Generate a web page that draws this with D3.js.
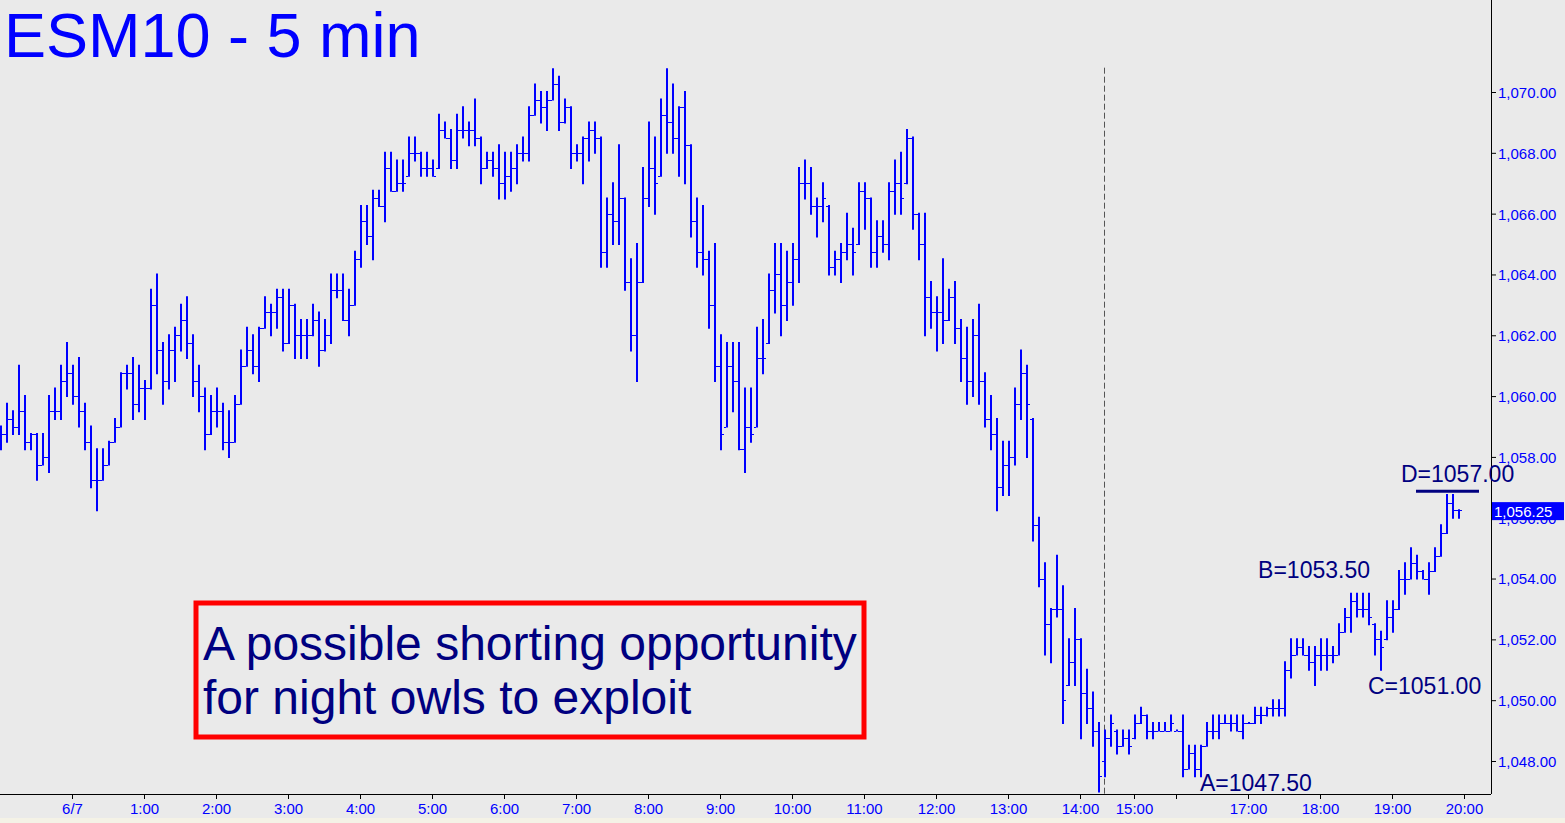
<!DOCTYPE html>
<meta charset="utf-8">

<head>
  <meta name="viewport" content="width=device-width, initial-scale=1">
  <style>
    body {
      margin: 0;
      background: #eaeaea;
      overflow: hidden;
    }

    /* Every label on the chart uses the same Arial-like face */
    text {
      font-family: "Liberation Sans", Arial, sans-serif;
    }

    .axis text {
      fill: #0000ff;
      font-size: 15px;
    }

    .axis line {
      stroke: #000;
    }
  </style>
</head>

<body>
  <script src="https://d3js.org/d3.v7.min.js"></script>

  <div id="viz"></div>

  <script type="text/javascript">
    // ESM10 5 minute bars (one value per bar, left to right)
    var highs = [
      1059.0, 1059.75, 1059.5, 1061.0, 1060.0, 1058.75, 1058.75, 1058.75, 1060.0, 1060.25,
      1061.0, 1061.75, 1061.0, 1061.25, 1059.75, 1059.0, 1058.25, 1058.25, 1058.5, 1059.25,
      1060.75, 1061.0, 1061.25, 1061.0, 1060.5, 1063.5, 1064.0, 1061.75, 1062.0, 1062.25,
      1063.0, 1063.25, 1062.0, 1061.0, 1060.25, 1060.0, 1060.25, 1059.75, 1059.5, 1060.0,
      1061.5, 1062.25, 1062.0, 1062.25, 1063.25, 1063.0, 1063.5, 1063.5, 1063.5, 1063.0,
      1062.5, 1062.5, 1063.0, 1062.75, 1062.5, 1064.0, 1064.0, 1064.0, 1063.5, 1064.75,
      1066.25, 1066.25, 1066.75, 1066.75, 1068.0, 1068.0, 1067.75, 1067.75, 1068.5, 1068.5,
      1068.0, 1068.0, 1067.75, 1069.25, 1069.0, 1068.75, 1069.25, 1069.5, 1069.0, 1069.75,
      1068.5, 1068.0, 1068.0, 1068.25, 1068.0, 1068.0, 1068.25, 1068.5, 1069.5, 1070.25,
      1070.0, 1070.0, 1070.75, 1070.5, 1069.75, 1069.5, 1068.25, 1068.5, 1069.0, 1069.0,
      1068.5, 1066.5, 1067.0, 1068.25, 1066.5, 1064.5, 1065.0, 1067.5, 1069.0, 1068.5,
      1069.75, 1070.75, 1070.25, 1069.5, 1070.0, 1068.25, 1066.5, 1066.25, 1064.75, 1065.0,
      1062.0, 1061.75, 1061.75, 1061.75, 1060.25, 1060.25, 1062.25, 1062.5, 1064.0, 1065.0,
      1065.0, 1064.75, 1065.0, 1067.5, 1067.75, 1067.5, 1066.5, 1067.0, 1066.25, 1064.75,
      1065.0, 1066.0, 1065.5, 1067.0, 1067.0, 1066.5, 1065.75, 1065.75, 1067.0, 1067.75,
      1068.0, 1068.75, 1068.5, 1066.0, 1066.0, 1063.75, 1063.25, 1064.5, 1063.5, 1063.75,
      1062.5, 1062.25, 1062.5, 1063.0, 1060.75, 1060.0, 1059.25, 1058.5, 1058.5, 1060.25,
      1061.5, 1061.0, 1059.25, 1056.0, 1054.5, 1053.0, 1054.75, 1053.75, 1052.0, 1053.0,
      1052.0, 1051.0, 1050.25, 1049.25, 1049.0, 1049.5, 1049.0, 1049.0, 1049.0, 1049.5,
      1049.75, 1049.5, 1049.25, 1049.25, 1049.25, 1049.5, 1049.0, 1049.5, 1048.5, 1048.5,
      1048.5, 1049.25, 1049.5, 1049.5, 1049.5, 1049.5, 1049.5, 1049.5, 1049.25, 1049.75,
      1049.75, 1049.75, 1050.0, 1050.0, 1051.25, 1052.0, 1052.0, 1052.0, 1051.75, 1051.75,
      1052.0, 1052.0, 1051.75, 1052.5, 1053.0, 1053.5, 1053.5, 1053.5, 1053.5, 1052.5,
      1052.25, 1053.25, 1053.25, 1054.25, 1054.5, 1055.0, 1054.75, 1054.25, 1054.5, 1055.0,
      1055.75, 1056.75, 1056.75, 1056.25
    ];

    var lows = [
      1058.25, 1058.5, 1058.75, 1058.75, 1058.25, 1058.25, 1057.25, 1057.75, 1057.5, 1059.25,
      1059.25, 1060.0, 1059.75, 1059.0, 1058.25, 1057.0, 1056.25, 1057.25, 1057.75, 1058.5,
      1059.0, 1060.25, 1059.25, 1059.5, 1059.25, 1060.25, 1060.75, 1059.75, 1060.25, 1060.5,
      1061.5, 1061.25, 1060.0, 1059.5, 1058.25, 1058.75, 1059.0, 1058.25, 1058.0, 1058.5,
      1059.75, 1061.0, 1060.75, 1060.5, 1062.25, 1062.0, 1062.25, 1061.5, 1061.75, 1061.25,
      1061.25, 1061.25, 1062.0, 1061.0, 1061.5, 1061.75, 1063.25, 1062.5, 1062.0, 1063.0,
      1064.25, 1065.0, 1064.5, 1066.25, 1065.75, 1066.75, 1066.75, 1066.75, 1067.25, 1067.75,
      1067.25, 1067.25, 1067.25, 1067.5, 1068.5, 1067.5, 1067.5, 1068.5, 1068.25, 1068.25,
      1067.0, 1067.5, 1067.25, 1066.5, 1066.5, 1066.75, 1067.0, 1067.75, 1067.75, 1069.25,
      1069.0, 1068.75, 1069.75, 1068.75, 1069.0, 1067.5, 1067.75, 1067.0, 1067.75, 1068.0,
      1064.25, 1064.25, 1065.0, 1065.0, 1063.5, 1061.5, 1060.5, 1063.75, 1066.25, 1066.0,
      1067.25, 1068.0, 1068.0, 1067.25, 1067.0, 1065.25, 1064.25, 1064.0, 1062.25, 1060.5,
      1058.25, 1059.0, 1059.5, 1058.25, 1057.5, 1058.5, 1059.0, 1060.75, 1061.75, 1062.75,
      1062.0, 1062.5, 1063.0, 1063.75, 1066.5, 1066.0, 1065.25, 1065.75, 1064.0, 1064.0,
      1063.75, 1064.5, 1064.0, 1065.0, 1065.5, 1064.25, 1064.25, 1064.75, 1064.5, 1066.0,
      1066.0, 1067.0, 1065.5, 1064.5, 1062.0, 1062.25, 1061.5, 1061.75, 1062.5, 1061.75,
      1060.5, 1059.75, 1060.0, 1059.75, 1059.0, 1058.25, 1056.25, 1056.75, 1056.75, 1057.75,
      1059.25, 1058.0, 1055.25, 1053.75, 1051.5, 1051.25, 1052.75, 1049.25, 1050.5, 1050.5,
      1048.75, 1049.25, 1048.5, 1047.0, 1047.5, 1048.5, 1048.25, 1048.5, 1048.25, 1048.75,
      1049.25, 1048.75, 1048.75, 1049.0, 1049.0, 1049.0, 1049.0, 1047.5, 1047.75, 1047.5,
      1047.5, 1048.5, 1048.75, 1048.75, 1049.25, 1049.0, 1049.0, 1048.75, 1049.25, 1049.25,
      1049.25, 1049.5, 1049.5, 1049.5, 1049.5, 1050.75, 1051.5, 1051.5, 1051.0, 1050.5,
      1051.0, 1051.0, 1051.25, 1051.5, 1052.25, 1052.25, 1052.75, 1052.75, 1052.5, 1051.5,
      1051.0, 1052.0, 1052.25, 1053.0, 1053.5, 1054.0, 1054.0, 1054.0, 1053.5, 1054.25,
      1054.75, 1055.5, 1056.0, 1056.0
    ];

    var opens = [
      1058.5, 1058.75, 1059.25, 1059.0, 1059.5, 1058.5, 1058.75, 1057.75, 1058.0, 1059.5,
      1059.5, 1060.5, 1060.75, 1060.0, 1059.5, 1058.5, 1057.25, 1057.25, 1057.75, 1058.5,
      1059.0, 1060.75, 1060.75, 1059.75, 1060.25, 1060.25, 1063.0, 1061.5, 1060.5, 1061.5,
      1062.0, 1062.5, 1061.75, 1060.5, 1060.0, 1058.75, 1059.5, 1059.5, 1058.5, 1058.5,
      1059.75, 1061.0, 1061.5, 1061.0, 1062.25, 1062.75, 1062.75, 1063.25, 1061.75, 1063.0,
      1062.0, 1062.0, 1062.0, 1062.5, 1061.5, 1062.0, 1063.5, 1063.5, 1062.5, 1063.0,
      1064.5, 1065.75, 1065.25, 1066.5, 1066.25, 1067.5, 1066.75, 1067.0, 1067.25, 1068.0,
      1068.0, 1067.5, 1067.5, 1067.5, 1068.75, 1068.5, 1067.75, 1068.75, 1068.75, 1068.75,
      1068.5, 1067.5, 1067.75, 1067.5, 1067.0, 1067.25, 1067.5, 1068.0, 1068.0, 1069.25,
      1069.75, 1069.5, 1069.75, 1070.25, 1069.0, 1069.5, 1068.0, 1068.0, 1068.5, 1068.75,
      1068.5, 1064.75, 1066.0, 1065.75, 1066.5, 1063.75, 1062.0, 1063.75, 1066.5, 1067.5,
      1067.25, 1069.25, 1069.0, 1068.5, 1069.5, 1068.25, 1065.75, 1064.75, 1064.5, 1063.0,
      1061.0, 1059.0, 1061.0, 1060.5, 1058.25, 1059.0, 1059.0, 1061.25, 1061.75, 1063.5,
      1064.0, 1063.0, 1063.75, 1064.5, 1067.0, 1067.0, 1066.25, 1066.25, 1066.25, 1064.25,
      1064.5, 1064.75, 1065.0, 1065.0, 1066.75, 1066.5, 1064.75, 1065.25, 1065.0, 1066.75,
      1067.0, 1067.0, 1068.5, 1066.0, 1065.0, 1063.25, 1062.75, 1062.75, 1062.5, 1063.25,
      1062.25, 1061.25, 1060.5, 1062.0, 1060.5, 1059.25, 1058.75, 1057.0, 1057.75, 1058.0,
      1059.75, 1060.75, 1059.25, 1055.75, 1054.0, 1052.5, 1053.0, 1053.0, 1050.5, 1051.25,
      1052.0, 1050.25, 1049.75, 1049.0, 1048.0, 1048.75, 1049.0, 1048.5, 1048.75, 1048.75,
      1049.25, 1049.5, 1049.0, 1049.0, 1049.0, 1049.0, 1049.0, 1049.0, 1047.75, 1048.25,
      1047.75, 1048.5, 1049.0, 1049.0, 1049.25, 1049.25, 1049.25, 1049.0, 1049.25, 1049.25,
      1049.5, 1049.5, 1049.75, 1049.75, 1049.75, 1051.0, 1051.5, 1051.75, 1051.5, 1051.25,
      1051.5, 1051.5, 1051.5, 1051.5, 1052.25, 1052.75, 1053.25, 1053.0, 1053.0, 1052.5,
      1052.0, 1052.0, 1052.75, 1053.0, 1054.0, 1054.0, 1054.5, 1054.25, 1054.0, 1054.25,
      1054.75, 1055.5, 1056.5, 1056.25
    ];

    var closes = [
      1058.75, 1059.25, 1059.0, 1059.5, 1058.5, 1058.75, 1057.75, 1058.0, 1059.5, 1059.5,
      1060.5, 1060.75, 1060.0, 1059.5, 1058.5, 1057.25, 1057.25, 1057.75, 1058.5, 1059.0,
      1060.75, 1060.75, 1059.75, 1060.25, 1060.25, 1063.0, 1061.5, 1060.5, 1061.5, 1062.0,
      1062.5, 1061.75, 1060.5, 1060.0, 1058.75, 1059.5, 1059.5, 1058.5, 1058.5, 1059.75,
      1061.0, 1061.5, 1061.0, 1062.25, 1062.75, 1062.75, 1063.25, 1061.75, 1063.0, 1062.0,
      1062.0, 1062.0, 1062.5, 1061.5, 1062.0, 1063.5, 1063.5, 1062.5, 1063.0, 1064.5,
      1065.75, 1065.25, 1066.5, 1066.25, 1067.5, 1066.75, 1067.0, 1067.0, 1068.0, 1068.0,
      1067.5, 1067.5, 1067.25, 1068.75, 1068.5, 1067.75, 1068.75, 1068.75, 1068.75, 1068.5,
      1067.5, 1067.75, 1067.5, 1067.0, 1067.25, 1067.5, 1068.0, 1068.0, 1069.25, 1069.75,
      1069.5, 1069.75, 1070.25, 1069.0, 1069.5, 1068.0, 1068.0, 1068.5, 1068.75, 1068.5,
      1064.75, 1066.0, 1065.75, 1066.5, 1063.75, 1062.0, 1063.75, 1066.5, 1067.5, 1067.0,
      1069.25, 1069.0, 1068.5, 1069.5, 1068.25, 1065.75, 1064.75, 1064.5, 1063.0, 1061.0,
      1058.75, 1061.0, 1060.5, 1058.25, 1059.0, 1058.75, 1061.25, 1061.25, 1063.5, 1064.0,
      1063.0, 1063.75, 1064.5, 1067.0, 1067.0, 1066.25, 1066.25, 1066.5, 1064.25, 1064.5,
      1064.75, 1065.0, 1064.75, 1066.75, 1066.5, 1064.75, 1065.25, 1065.0, 1066.75, 1067.0,
      1066.5, 1068.5, 1066.0, 1065.0, 1063.25, 1062.75, 1062.75, 1062.5, 1063.25, 1062.25,
      1061.25, 1060.5, 1062.0, 1060.5, 1059.25, 1058.75, 1057.0, 1057.75, 1058.0, 1059.75,
      1060.75, 1059.75, 1055.75, 1054.0, 1052.5, 1053.0, 1053.0, 1050.0, 1051.25, 1052.0,
      1050.25, 1049.75, 1049.0, 1047.5, 1048.75, 1049.25, 1048.5, 1048.75, 1048.5, 1049.25,
      1049.5, 1049.0, 1049.0, 1049.0, 1049.0, 1049.25, 1049.0, 1047.75, 1048.25, 1047.75,
      1048.5, 1049.0, 1049.0, 1049.25, 1049.25, 1049.25, 1049.0, 1049.25, 1049.25, 1049.5,
      1049.5, 1049.75, 1049.75, 1049.75, 1051.0, 1051.5, 1051.75, 1051.5, 1051.25, 1051.5,
      1051.5, 1051.5, 1051.5, 1052.25, 1052.75, 1053.25, 1053.0, 1053.0, 1052.75, 1052.0,
      1051.75, 1052.75, 1053.0, 1054.0, 1054.0, 1054.5, 1054.25, 1054.0, 1054.25, 1054.75,
      1055.5, 1056.5, 1056.25, 1056.25
    ];

    // Time axis: bar index of each tick and its label (16:00 has a tick but no label)
    var timeTicks = [12, 24, 36, 48, 60, 72, 84, 96, 108, 120, 132, 144, 156, 168, 180, 189, 196, 208, 220, 232, 244];
    var timeLabels = ["6/7", "1:00", "2:00", "3:00", "4:00", "5:00", "6:00", "7:00", "8:00", "9:00", "10:00",
      "11:00", "12:00", "13:00", "14:00", "15:00", "", "17:00", "18:00", "19:00", "20:00"];

    // Price axis ticks
    var priceTicks = [1048, 1050, 1052, 1054, 1056, 1058, 1060, 1062, 1064, 1066, 1068, 1070];

    // Session break (bar index) and the A/B/C/D pattern notes
    var sessionBreak = 184;
    var lastPrice = 1056.25;
    var pointNames = ["A", "B", "C", "D"];
    var pointValues = [1047.50, 1053.50, 1051.00, 1057.00];
    var pointBars = [200, 228, 228, 236];

    var noteLines = ["A possible shorting opportunity", "for night owls to exploit"];

    var config = {
      width: 1565,
      height: 823,
      axisX: 1491,
      axisY: 794
    }

    var bars = highs.map(function(h, i) {
      return { i: i, o: opens[i], h: h, l: lows[i], c: closes[i] };
    });

    var svg = d3.select("#viz").append("svg")
      .attr("width", config.width)
      .attr("height", config.height)
      .style("display", "block");

    svg.append("rect")
      .attr("width", config.width)
      .attr("height", config.height)
      .attr("fill", "#eaeaea");

    // thin cream strip along the very bottom of the window
    svg.append("rect")
      .attr("x", 0)
      .attr("y", 818)
      .attr("width", config.width)
      .attr("height", 5)
      .attr("fill", "#f4f2e6");

    // 6 px per 5-minute bar
    var xScale = d3.scaleLinear()
      .domain([0, 244])
      .range([0, 1464]);

    var yScale = d3.scaleLinear()
      .domain([1048, 1070])
      .range([761, 92]);

    // Session break, dashed
    svg.append("line")
      .attr("x1", xScale(sessionBreak) + 0.5)
      .attr("x2", xScale(sessionBreak) + 0.5)
      .attr("y1", yScale(1070.8))
      .attr("y2", config.axisY)
      .attr("stroke", "#555")
      .attr("stroke-width", 1)
      .attr("stroke-dasharray", "6,3");

    // OHLC bars
    var g = svg.append("g").attr("class", "bars");

    var bar = g.selectAll(".ohlc")
      .data(bars)
      .enter().append("g")
      .attr("class", "ohlc");

    bar.append("line")
      .attr("x1", function(d) { return xScale(d.i) + 1; })
      .attr("x2", function(d) { return xScale(d.i) + 1; })
      .attr("y1", function(d) { return yScale(d.h) - 1; })
      .attr("y2", function(d) { return yScale(d.l) + 1; })
      .attr("stroke", "#0000ff")
      .attr("stroke-width", 2);

    // open tick on the left, close tick on the right
    bar.append("line")
      .attr("x1", function(d) { return xScale(d.i) - 2; })
      .attr("x2", function(d) { return xScale(d.i); })
      .attr("y1", function(d) { return Math.round(yScale(Math.max(d.l, Math.min(d.h, d.o)))) + 0.5; })
      .attr("y2", function(d) { return Math.round(yScale(Math.max(d.l, Math.min(d.h, d.o)))) + 0.5; })
      .attr("stroke", "#0000ff")
      .attr("stroke-width", 1);

    bar.append("line")
      .attr("x1", function(d) { return xScale(d.i) + 2; })
      .attr("x2", function(d) { return xScale(d.i) + 4; })
      .attr("y1", function(d) { return Math.round(yScale(Math.max(d.l, Math.min(d.h, d.c)))) + 0.5; })
      .attr("y2", function(d) { return Math.round(yScale(Math.max(d.l, Math.min(d.h, d.c)))) + 0.5; })
      .attr("stroke", "#0000ff")
      .attr("stroke-width", 1);

    // Price axis on the right
    var yAxis = d3.axisRight(yScale)
      .tickValues(priceTicks)
      .tickSize(5)
      .tickPadding(2)
      .tickFormat(d3.format(",.2f"));

    svg.append("g")
      .attr("class", "axis")
      .attr("transform", "translate(" + config.axisX + ",0)")
      .call(yAxis)
      .call(function(a) { a.select(".domain").remove(); })
      .selectAll("text")
      .attr("dy", "0.36em");

    svg.append("line")
      .attr("x1", config.axisX + 0.5)
      .attr("x2", config.axisX + 0.5)
      .attr("y1", 0)
      .attr("y2", config.axisY)
      .attr("stroke", "#000");

    // Time axis along the bottom
    var xAxis = d3.axisBottom(xScale)
      .tickValues(timeTicks)
      .tickSize(5)
      .tickPadding(4)
      .tickFormat(function(d, i) { return timeLabels[i]; });

    svg.append("g")
      .attr("class", "axis")
      .attr("transform", "translate(0," + config.axisY + ")")
      .call(xAxis)
      .call(function(a) { a.select(".domain").remove(); });

    svg.append("line")
      .attr("x1", 0)
      .attr("x2", config.axisX)
      .attr("y1", config.axisY + 0.5)
      .attr("y2", config.axisY + 0.5)
      .attr("stroke", "#000");

    // Last price flag on the axis (covers the top of the 1,056.00 label, as in the original)
    svg.append("rect")
      .attr("x", config.axisX + 1)
      .attr("y", yScale(lastPrice) - 8)
      .attr("width", 72)
      .attr("height", 18)
      .attr("fill", "#0000ff");

    svg.append("text")
      .attr("x", config.axisX + 3)
      .attr("y", yScale(lastPrice) + 7)
      .attr("fill", "#fff")
      .attr("font-size", 15)
      .text(d3.format(",.2f")(lastPrice));

    // A/B/C/D notes
    var fmt = d3.format(".2f");
    var noteColor = "#000080";

    svg.append("text")
      .attr("x", xScale(pointBars[0]))
      .attr("y", yScale(pointValues[0]) + 15)
      .attr("fill", noteColor)
      .attr("font-size", 23)
      .text(pointNames[0] + "=" + fmt(pointValues[0]));

    svg.append("text")
      .attr("x", xScale(pointBars[1]) + 2)
      .attr("y", yScale(pointValues[1]) - 16)
      .attr("text-anchor", "end")
      .attr("fill", noteColor)
      .attr("font-size", 23)
      .text(pointNames[1] + "=" + fmt(pointValues[1]));

    svg.append("text")
      .attr("x", xScale(pointBars[2]))
      .attr("y", yScale(pointValues[2]) + 24)
      .attr("fill", noteColor)
      .attr("font-size", 23)
      .text(pointNames[2] + "=" + fmt(pointValues[2]));

    svg.append("line")
      .attr("x1", xScale(pointBars[3]))
      .attr("x2", xScale(246.5))
      .attr("y1", yScale(pointValues[3]) + 4)
      .attr("y2", yScale(pointValues[3]) + 4)
      .attr("stroke", noteColor)
      .attr("stroke-width", 3);

    svg.append("text")
      .attr("x", xScale(pointBars[3]) - 15)
      .attr("y", yScale(pointValues[3]) - 5)
      .attr("fill", noteColor)
      .attr("font-size", 23)
      .text(pointNames[3] + "=" + fmt(pointValues[3]));

    // Title
    svg.append("text")
      .attr("x", 4)
      .attr("y", 57)
      .attr("fill", "#0000ff")
      .attr("font-size", 63)
      .text("ESM10 - 5 min");

    // Comment box
    svg.append("rect")
      .attr("x", 196)
      .attr("y", 603)
      .attr("width", 668)
      .attr("height", 134)
      .attr("fill", "none")
      .attr("stroke", "#ff0000")
      .attr("stroke-width", 5);

    svg.selectAll(".note")
      .data(noteLines)
      .enter().append("text")
      .attr("class", "note")
      .attr("x", 203)
      .attr("y", function(d, i) { return 660 + i * 54; })
      .attr("fill", noteColor)
      .attr("font-size", 48)
      .text(function(d) { return d; });
  </script>
</body>
